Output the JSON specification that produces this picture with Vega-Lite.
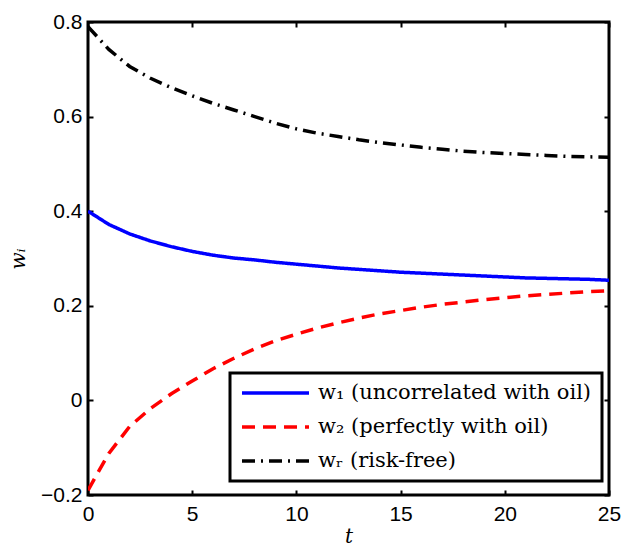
{
  "$schema": "https://vega.github.io/schema/vega-lite/v6.json",
  "width": 521,
  "height": 473,
  "autosize": {"type": "none"},
  "padding": {"left": 88, "top": 22, "right": 15, "bottom": 51},
  "background": "white",
  "datasets": {
    "d": [
      {"t": 0, "s": "w₁ (uncorrelated with oil)", "w": 0.400},
      {"t": 1, "s": "w₁ (uncorrelated with oil)", "w": 0.372},
      {"t": 2, "s": "w₁ (uncorrelated with oil)", "w": 0.352},
      {"t": 3, "s": "w₁ (uncorrelated with oil)", "w": 0.337},
      {"t": 4, "s": "w₁ (uncorrelated with oil)", "w": 0.325},
      {"t": 5, "s": "w₁ (uncorrelated with oil)", "w": 0.315},
      {"t": 6, "s": "w₁ (uncorrelated with oil)", "w": 0.307},
      {"t": 7, "s": "w₁ (uncorrelated with oil)", "w": 0.301},
      {"t": 8, "s": "w₁ (uncorrelated with oil)", "w": 0.297},
      {"t": 9, "s": "w₁ (uncorrelated with oil)", "w": 0.292},
      {"t": 10, "s": "w₁ (uncorrelated with oil)", "w": 0.288},
      {"t": 11, "s": "w₁ (uncorrelated with oil)", "w": 0.284},
      {"t": 12, "s": "w₁ (uncorrelated with oil)", "w": 0.280},
      {"t": 13, "s": "w₁ (uncorrelated with oil)", "w": 0.277},
      {"t": 14, "s": "w₁ (uncorrelated with oil)", "w": 0.274},
      {"t": 15, "s": "w₁ (uncorrelated with oil)", "w": 0.271},
      {"t": 16, "s": "w₁ (uncorrelated with oil)", "w": 0.269},
      {"t": 17, "s": "w₁ (uncorrelated with oil)", "w": 0.267},
      {"t": 18, "s": "w₁ (uncorrelated with oil)", "w": 0.265},
      {"t": 19, "s": "w₁ (uncorrelated with oil)", "w": 0.263},
      {"t": 20, "s": "w₁ (uncorrelated with oil)", "w": 0.261},
      {"t": 21, "s": "w₁ (uncorrelated with oil)", "w": 0.259},
      {"t": 22, "s": "w₁ (uncorrelated with oil)", "w": 0.258},
      {"t": 23, "s": "w₁ (uncorrelated with oil)", "w": 0.257},
      {"t": 24, "s": "w₁ (uncorrelated with oil)", "w": 0.256},
      {"t": 25, "s": "w₁ (uncorrelated with oil)", "w": 0.254},
      {"t": 0, "s": "w₂ (perfectly with oil)", "w": -0.190},
      {"t": 1, "s": "w₂ (perfectly with oil)", "w": -0.112},
      {"t": 2, "s": "w₂ (perfectly with oil)", "w": -0.055},
      {"t": 3, "s": "w₂ (perfectly with oil)", "w": -0.017},
      {"t": 4, "s": "w₂ (perfectly with oil)", "w": 0.014},
      {"t": 5, "s": "w₂ (perfectly with oil)", "w": 0.041},
      {"t": 6, "s": "w₂ (perfectly with oil)", "w": 0.067},
      {"t": 7, "s": "w₂ (perfectly with oil)", "w": 0.089},
      {"t": 8, "s": "w₂ (perfectly with oil)", "w": 0.109},
      {"t": 9, "s": "w₂ (perfectly with oil)", "w": 0.126},
      {"t": 10, "s": "w₂ (perfectly with oil)", "w": 0.140},
      {"t": 11, "s": "w₂ (perfectly with oil)", "w": 0.153},
      {"t": 12, "s": "w₂ (perfectly with oil)", "w": 0.164},
      {"t": 13, "s": "w₂ (perfectly with oil)", "w": 0.174},
      {"t": 14, "s": "w₂ (perfectly with oil)", "w": 0.183},
      {"t": 15, "s": "w₂ (perfectly with oil)", "w": 0.190},
      {"t": 16, "s": "w₂ (perfectly with oil)", "w": 0.197},
      {"t": 17, "s": "w₂ (perfectly with oil)", "w": 0.203},
      {"t": 18, "s": "w₂ (perfectly with oil)", "w": 0.208},
      {"t": 19, "s": "w₂ (perfectly with oil)", "w": 0.213},
      {"t": 20, "s": "w₂ (perfectly with oil)", "w": 0.217},
      {"t": 21, "s": "w₂ (perfectly with oil)", "w": 0.221},
      {"t": 22, "s": "w₂ (perfectly with oil)", "w": 0.224},
      {"t": 23, "s": "w₂ (perfectly with oil)", "w": 0.227},
      {"t": 24, "s": "w₂ (perfectly with oil)", "w": 0.230},
      {"t": 25, "s": "w₂ (perfectly with oil)", "w": 0.232},
      {"t": 0, "s": "wᵣ (risk-free)", "w": 0.790},
      {"t": 1, "s": "wᵣ (risk-free)", "w": 0.742},
      {"t": 2, "s": "wᵣ (risk-free)", "w": 0.706},
      {"t": 3, "s": "wᵣ (risk-free)", "w": 0.681},
      {"t": 4, "s": "wᵣ (risk-free)", "w": 0.661},
      {"t": 5, "s": "wᵣ (risk-free)", "w": 0.644},
      {"t": 6, "s": "wᵣ (risk-free)", "w": 0.628},
      {"t": 7, "s": "wᵣ (risk-free)", "w": 0.614},
      {"t": 8, "s": "wᵣ (risk-free)", "w": 0.600},
      {"t": 9, "s": "wᵣ (risk-free)", "w": 0.586},
      {"t": 10, "s": "wᵣ (risk-free)", "w": 0.574},
      {"t": 11, "s": "wᵣ (risk-free)", "w": 0.565},
      {"t": 12, "s": "wᵣ (risk-free)", "w": 0.558},
      {"t": 13, "s": "wᵣ (risk-free)", "w": 0.551},
      {"t": 14, "s": "wᵣ (risk-free)", "w": 0.545},
      {"t": 15, "s": "wᵣ (risk-free)", "w": 0.540},
      {"t": 16, "s": "wᵣ (risk-free)", "w": 0.535},
      {"t": 17, "s": "wᵣ (risk-free)", "w": 0.531},
      {"t": 18, "s": "wᵣ (risk-free)", "w": 0.527},
      {"t": 19, "s": "wᵣ (risk-free)", "w": 0.524},
      {"t": 20, "s": "wᵣ (risk-free)", "w": 0.522},
      {"t": 21, "s": "wᵣ (risk-free)", "w": 0.520},
      {"t": 22, "s": "wᵣ (risk-free)", "w": 0.518},
      {"t": 23, "s": "wᵣ (risk-free)", "w": 0.516},
      {"t": 24, "s": "wᵣ (risk-free)", "w": 0.515},
      {"t": 25, "s": "wᵣ (risk-free)", "w": 0.514}
    ]
  },
  "data": {"name": "d"},
  "layer": [
    {
      "mark": {"type": "line", "strokeWidth": 3.5, "clip": true},
      "encoding": {
        "x": {
          "field": "t", "type": "quantitative",
          "scale": {"domain": [0, 25], "nice": false},
          "axis": {"orient": "bottom", "values": [0, 5, 10, 15, 20, 25], "title": "t", "format": "d", "labelPadding": 13, "titlePadding": 2}
        },
        "y": {
          "field": "w", "type": "quantitative",
          "scale": {"domain": [-0.2, 0.8], "nice": false, "zero": false},
          "axis": {"orient": "left", "values": [-0.2, 0, 0.2, 0.4, 0.6, 0.8], "title": "wᵢ",
                   "labelExpr": "datum.value == 0 ? '0' : format(datum.value, '.1f')", "labelPadding": 11, "titlePadding": 12}
        },
        "color": {
          "field": "s", "type": "nominal",
          "scale": {"domain": ["w₁ (uncorrelated with oil)", "w₂ (perfectly with oil)", "wᵣ (risk-free)"], "range": ["#0000ff", "#ff0000", "#000000"]},
          "legend": {"title": null, "orient": "none", "legendX": 142, "legendY": 351}
        },
        "strokeDash": {
          "field": "s", "type": "nominal",
          "scale": {"domain": ["w₁ (uncorrelated with oil)", "w₂ (perfectly with oil)", "wᵣ (risk-free)"], "range": [[1, 0], [13, 8], [13, 6, 2, 6]]},
          "legend": {"title": null, "orient": "none", "legendX": 142, "legendY": 351}
        }
      }
    },
    {
      "mark": {"type": "line", "opacity": 0},
      "encoding": {
        "x": {"field": "t", "type": "quantitative", "axis": {"orient": "top", "values": [0, 5, 10, 15, 20, 25], "labels": false, "title": null}},
        "y": {"field": "w", "type": "quantitative", "axis": {"orient": "right", "values": [-0.2, 0, 0.2, 0.4, 0.6, 0.8], "labels": false, "title": null}},
        "detail": {"field": "s"}
      }
    }
  ],
  "resolve": {"axis": {"x": "independent", "y": "independent"}},
  "config": {
    "view": {"stroke": "black", "strokeWidth": 3},
    "axis": {
      "domain": false, "grid": false, "labelFlush": false,
      "tickColor": "black", "tickWidth": 2, "tickSize": -5,
      "labelFont": "Liberation Sans", "labelFontSize": 21, "labelColor": "black",
      "titleFont": "DejaVu Serif", "titleFontStyle": "italic", "titleFontWeight": "normal", "titleFontSize": 20, "titleColor": "black"
    },
    "legend": {
      "fillColor": "white", "strokeColor": "black", "strokeWidth": 3,
      "padding": 10, "rowPadding": 13, "clipHeight": 20,
      "symbolType": "stroke", "symbolSize": 4489, "symbolStrokeWidth": 3.5,
      "labelFont": "DejaVu Serif", "labelFontSize": 21, "labelColor": "black", "labelOffset": 7, "labelLimit": 400
    }
  }
}
